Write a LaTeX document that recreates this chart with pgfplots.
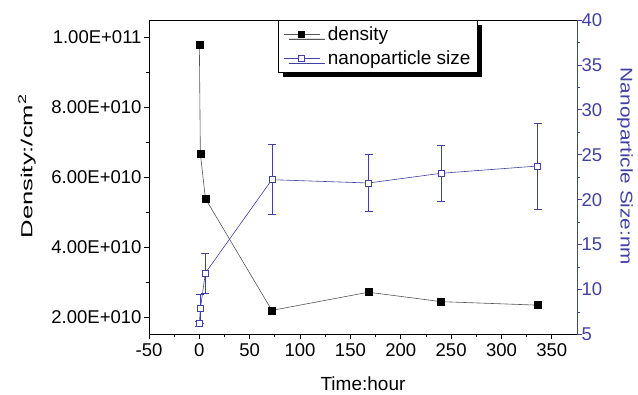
\documentclass[border=0pt]{standalone}
\usepackage{fontspec}
\setmainfont{Liberation Sans}
\usepackage{graphicx}
\usepackage{pgfplots}
\pgfplotsset{compat=1.18}
\usetikzlibrary{shadows}
\definecolor{nblue}{RGB}{64,64,165}
\definecolor{lgray}{RGB}{85,85,85}
\newcommand{\tfont}{\fontsize{18.5}{21}\selectfont}
\newcommand{\lfont}{\fontsize{19}{22}\selectfont}
\begin{document}
\begin{tikzpicture}
\begin{axis}[
  name=ax1,
  scale only axis, width=428pt, height=314.5pt,
  xmin=-50, xmax=375, ymin=1.5e10, ymax=1.05e11,
  axis line style={black, line width=0.8pt},
  tick align=outside, xtick pos=bottom, ytick pos=left,
  xtick={-50,0,50,100,150,200,250,300,350},
  xticklabels={-50,0,50,100,150,200,250,300,350},
  minor x tick num=1,
  ytick={2e10,4e10,6e10,8e10,1e11},
  yticklabels={2.00E+010,4.00E+010,6.00E+010,8.00E+010,1.00E+011},
  scaled y ticks=false,
  minor y tick num=1,
  major tick length=5pt, minor tick length=3pt,
  every tick/.style={black, line width=0.8pt},
  tick label style={font=\tfont},
  xticklabel style={yshift=-1pt},
  yticklabel style={xshift=1pt},
  xlabel={Time:hour},
  xlabel style={font=\lfont, at={(axis description cs:0.5,-0.177)}, anchor=base},
  ylabel={\scalebox{1.6}[1]{Density:/cm\textsuperscript{2}}},
  ylabel style={font=\fontsize{16}{19}\selectfont, at={(axis description cs:-0.285,0.535)}, anchor=center},
]
\addplot[color=lgray, line width=0.6pt, mark=square*, mark size=3.5pt,
  mark options={solid, fill=black, draw=black}]
  coordinates {(0,9.8e10) (1,6.68e10) (6,5.39e10) (72,2.19e10) (168,2.71e10) (240,2.44e10) (336,2.34e10)};
\end{axis}
\begin{axis}[
  scale only axis, width=428pt, height=314.5pt,
  xmin=-50, xmax=375, ymin=5, ymax=40,
  axis x line=none, axis y line*=right,
  y axis line style={nblue, line width=0.8pt},
  ytick={5,10,15,20,25,30,35,40},
  yticklabels={5,10,15,20,25,30,35,40},
  minor y tick num=1, tick align=outside,
  major tick length=5pt, minor tick length=3pt,
  every tick/.style={nblue, line width=0.8pt},
  yticklabel style={font=\tfont, text=nblue, xshift=-4pt},
  ylabel={\scalebox{1.22}[1]{Nanoparticle Size:nm}},
  ylabel style={font=\fontsize{17}{20}\selectfont, text=nblue, at={(axis description cs:1.112,0.534)}, anchor=center, rotate=180},
  legend cell align=left,
  legend style={at={(axis description cs:0.3014,1)}, anchor=north west,
    draw=black, line width=0.6pt, font=\lfont, fill=white,
    drop shadow={shadow xshift=5pt, shadow yshift=-5pt, fill=black, opacity=1},
    /tikz/row sep=5pt, /tikz/column sep=6pt, inner xsep=5pt, inner ysep=4pt},
  legend image code/.code={\draw[mark repeat=2, mark phase=2] plot coordinates {(0pt,0pt) (18pt,0pt) (36pt,0pt)};},
]
\addlegendimage{color=lgray, line width=0.6pt, mark=square*, mark size=3pt, mark options={solid, fill=black, draw=black}}
\addlegendentry{density}
\addplot[color=nblue, line width=0.6pt, mark=square*, mark size=3pt,
  mark options={solid, fill=white, draw=nblue},
  error bars/.cd, y dir=both, y explicit,
  error bar style={nblue, line width=0.6pt},
  error mark options={rotate=90, mark size=4pt, nblue, line width=0.6pt}]
  coordinates {(0,6.2) +- (0,0.3) (1,7.87) +- (0,1.6) (6,11.84) +- (0,2.2) (72,22.23) +- (0,3.9) (168,21.86) +- (0,3.2) (240,22.94) +- (0,3.1) (336,23.75) +- (0,4.8)};
\addlegendentry{nanoparticle size}
\end{axis}
\pgfresetboundingbox
\path ([xshift=-149pt,yshift=-60.5pt]ax1.south west) rectangle ([xshift=61pt,yshift=20pt]ax1.north east);
\end{tikzpicture}
\end{document}
